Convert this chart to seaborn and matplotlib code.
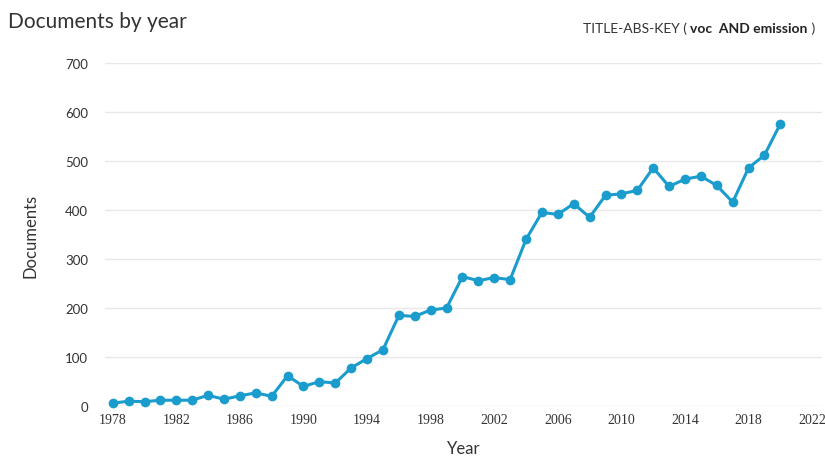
import matplotlib
matplotlib.use('Agg')
import matplotlib.pyplot as plt
import seaborn as sns
import pandas as pd

# Documents per year
years = list(range(1978, 2021))
documents = [6, 10, 9, 12, 12, 12, 22, 14, 21, 27, 20, 62, 40, 50, 47, 78, 97, 115,
             185, 183, 196, 200, 264, 256, 262, 258, 340, 395, 391, 413, 385, 430,
             433, 440, 486, 448, 463, 469, 450, 416, 486, 512, 576]
x_ticks = list(range(1978, 2023, 4))
y_ticks = list(range(0, 701, 100))

line_color = '#1a9ccc'

sns.set_theme(style='white')
plt.rcParams['font.family'] = ['Lato', 'DejaVu Sans']

df = pd.DataFrame({'Year': years, 'Documents': documents})

fig = plt.figure(figsize=(8.25, 4.6), dpi=100)
ax = fig.add_axes([0.127, 0.115, 0.869, 0.746])

sns.lineplot(data=df, x='Year', y='Documents', ax=ax, color=line_color,
             linewidth=2.2, marker='o', markersize=7, markeredgewidth=0,
             clip_on=False, zorder=3)

ax.set_xlim(1977.5, 2022.6)
ax.set_ylim(0, 700)
ax.set_xticks(x_ticks)
ax.set_yticks(y_ticks)
ax.grid(axis='y', color='#e8e8e8', linewidth=1)
for s in ax.spines.values():
    s.set_visible(False)
ax.tick_params(axis='both', length=0, colors='#333333')
ax.tick_params(axis='y', labelsize=9.5, pad=12)
ax.tick_params(axis='x', labelsize=10, pad=5)
for lab in ax.get_xticklabels():
    lab.set_family(['Liberation Serif', 'DejaVu Serif'])

ax.set_xlabel('Year', fontsize=12, color='#333333', labelpad=10)
ax.set_ylabel('Documents', fontsize=12, color='#333333', labelpad=19)

fig.text(0.01, 0.952, 'Documents by year', fontsize=15, color='#333333',
         ha='left', va='center')

# query text, built right to left so the pieces sit next to each other
t1 = fig.text(0.988, 0.938, ' )', fontsize=10, color='#333333', ha='right', va='center')
t2 = ax.annotate('voc  AND emission', xy=(0, 0.5), xycoords=t1, fontsize=10,
                 color='#222222', ha='right', va='center', fontweight='bold')
ax.annotate('TITLE-ABS-KEY ( ', xy=(0, 0.5), xycoords=t2, fontsize=10,
            color='#333333', ha='right', va='center')

fig.savefig('out.png', dpi=100)
